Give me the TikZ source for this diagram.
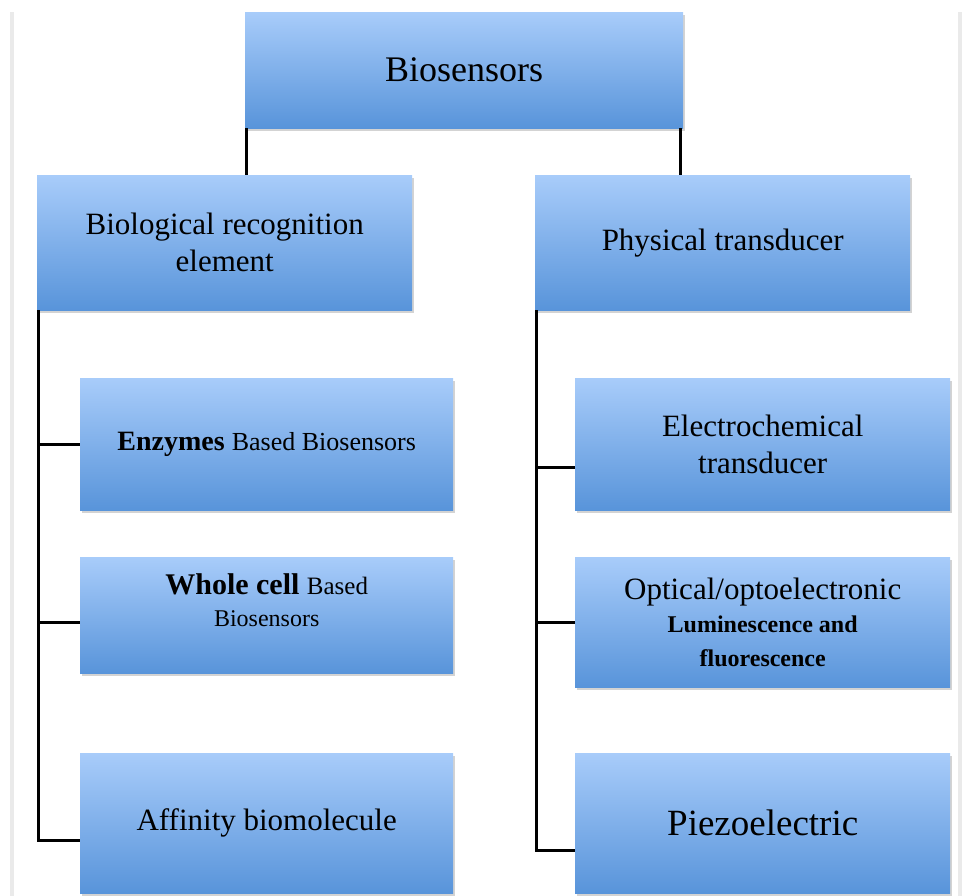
\documentclass[tikz,border=0pt]{standalone}
\usepackage{fontspec}
\setmainfont{Liberation Serif}
\usetikzlibrary{positioning,shadows}
\definecolor{boxtop}{RGB}{168,204,250}
\definecolor{boxbot}{RGB}{88,148,218}
\definecolor{frame}{RGB}{234,234,234}
\newcommand{\hd}{\fontsize{31}{37}\selectfont}
\newcommand{\sm}{\fontsize{24}{32}\selectfont}

\begin{document}
\begin{tikzpicture}[x=1pt,y=-1pt,
    box/.style={shading=axis,top color=boxtop,bottom color=boxbot,
      drop shadow={shadow xshift=1.5pt,shadow yshift=-2.5pt,opacity=.35},
      align=center,inner sep=0pt,anchor=north west,font=\hd},
    link/.style={line width=3pt}]
  \useasboundingbox (0,0) rectangle (970,896);
  \clip (0,0) rectangle (970,896);
  \draw[frame,line width=4pt] (12,12) -- (12,896);
  \draw[frame,line width=4pt] (960,12) -- (960,896);

  \node[box,minimum width=438pt,minimum height=116pt,font=\fontsize{36}{40}\selectfont] (root) at (245,12)
    {Biosensors};
  \node[box,minimum width=375pt,minimum height=135pt] (bre) at (37,175)
    {Biological recognition\\ element};
  \node[box,minimum width=375pt,minimum height=135pt] (phys) at (535,175)
    {Physical transducer};

  \node[box,minimum width=373pt,minimum height=132pt,font=\sm] (enz) at (80,378)
    {\fontsize{28}{32}\selectfont\textbf{Enzymes} \fontsize{26}{32}\selectfont Based Biosensors};
  \node[box,minimum width=373pt,minimum height=116pt,text depth=30pt,font=\sm] (whole) at (80,557)
    {\fontsize{30}{34}\selectfont\textbf{Whole cell} \fontsize{25}{32}\selectfont Based\\ Biosensors};
  \node[box,minimum width=373pt,minimum height=140pt] (aff) at (80,753)
    {Affinity biomolecule};

  \node[box,minimum width=375pt,minimum height=132pt] (elec) at (575,378)
    {Electrochemical\\ transducer};
  \node[box,minimum width=375pt,minimum height=130pt] (opt) at (575,557)
    {Optical/optoelectronic\\[-4pt] \sm\bfseries Luminescence and\\[-3pt] \sm\bfseries fluorescence};
  \node[box,minimum width=375pt,minimum height=140pt,font=\fontsize{37}{40}\selectfont] (piezo) at (575,753)
    {Piezoelectric};

  % root to the two branches
  \draw[link] ([xshift=1.5pt]root.south west) -- ([xshift=1.5pt]root.south west |- bre.north);
  \draw[link] ([xshift=-3pt]root.south east) -- ([xshift=-3pt]root.south east |- phys.north);

  % left branch
  \draw[link] ([xshift=1.5pt]bre.south west) |- ([yshift=-17pt]aff.west);
  \draw[link] ([xshift=1.5pt]bre.south west |- enz.west) -- (enz.west);
  \draw[link] ([xshift=1.5pt,yshift=-7pt]bre.south west |- whole.west) -- ([yshift=-7pt]whole.west);

  % right branch
  \draw[link] ([xshift=1.5pt]phys.south west) |- ([yshift=-27pt]piezo.west);
  \draw[link] ([xshift=1.5pt,yshift=-23pt]phys.south west |- elec.west) -- ([yshift=-23pt]elec.west);
  \draw[link] ([xshift=1.5pt]phys.south west |- opt.west) -- (opt.west);
\end{tikzpicture}
\end{document}
